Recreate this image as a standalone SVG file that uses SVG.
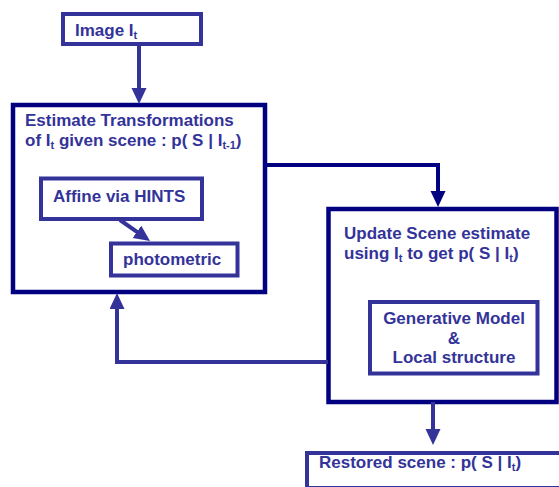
<svg xmlns="http://www.w3.org/2000/svg" width="559" height="487" viewBox="0 0 559 487">
<style>
.t{font-family:"Liberation Sans",Arial,sans-serif;font-weight:bold;font-size:17px;fill:#333399}
.s{font-size:11px}
.big{fill:#fff;stroke:#000080;stroke-width:4.5}
.box{fill:#fff;stroke:#333399;stroke-width:4}
.c{fill:none;stroke:#333399;stroke-width:4}
.cn{fill:none;stroke:#000080;stroke-width:4}
</style>
<defs>
<marker id="ah" markerUnits="userSpaceOnUse" markerWidth="16" markerHeight="16" refX="4" refY="7.5" orient="auto"><path d="M0,0 L16,7.5 L0,15 Z" fill="#333399"/></marker>
<marker id="ahn" markerUnits="userSpaceOnUse" markerWidth="16" markerHeight="16" refX="4" refY="7.5" orient="auto"><path d="M0,0 L16,7.5 L0,15 Z" fill="#000080"/></marker>
</defs>
<rect width="559" height="487" fill="#fff"/>
<g id="estimate">
<rect class="big" x="13" y="105" width="252" height="187"/>
<text class="t" x="25" y="126">Estimate Transformations</text>
<text class="t" x="25" y="146">of I<tspan class="s" dy="3">t</tspan><tspan dy="-3"> given scene : p( S | I</tspan><tspan class="s" dy="3">t-1</tspan><tspan dy="-3">)</tspan></text>
</g>
<g id="update">
<rect class="big" x="328.5" y="209" width="228" height="193"/>
<text class="t" x="344" y="239">Update Scene estimate</text>
<text class="t" x="344" y="259">using I<tspan class="s" dy="3">t</tspan><tspan dy="-3"> to get p( S | I</tspan><tspan class="s" dy="3">t</tspan><tspan dy="-3">)</tspan></text>
</g>
<g id="image">
<rect class="box" x="63" y="14" width="138" height="30"/>
<text class="t" x="75" y="36">Image I<tspan class="s" dy="3">t</tspan></text>
</g>
<g id="affine">
<rect class="box" x="41" y="178.5" width="161" height="40.5"/>
<text class="t" x="53" y="201.5">Affine via HINTS</text>
</g>
<g id="photometric">
<rect class="box" x="111" y="243.5" width="126.5" height="32"/>
<text class="t" x="123" y="265">photometric</text>
</g>
<g id="generative">
<rect class="box" x="370" y="302" width="167.5" height="71.5"/>
<text class="t" x="454" y="324" text-anchor="middle">Generative Model</text>
<text class="t" x="454" y="344" text-anchor="middle">&amp;</text>
<text class="t" x="454" y="363" text-anchor="middle">Local structure</text>
</g>
<g id="restored">
<rect class="box" x="307" y="453" width="262" height="35"/>
<text class="t" x="319" y="468">Restored scene : p( S | I<tspan class="s" dy="3">t</tspan><tspan dy="-3">)</tspan></text>
</g>
<g id="connectors">
<path class="c" d="M139,46 V92" marker-end="url(#ah)"/>
<path class="cn" d="M265,165 H438 V195" marker-end="url(#ahn)"/>
<path class="c" d="M120,220 L140.2,234.1" marker-end="url(#ah)"/>
<path class="c" d="M328,362 H117 V305" marker-end="url(#ah)"/>
<path class="c" d="M433,402 V433" marker-end="url(#ah)"/>
</g>
</svg>
